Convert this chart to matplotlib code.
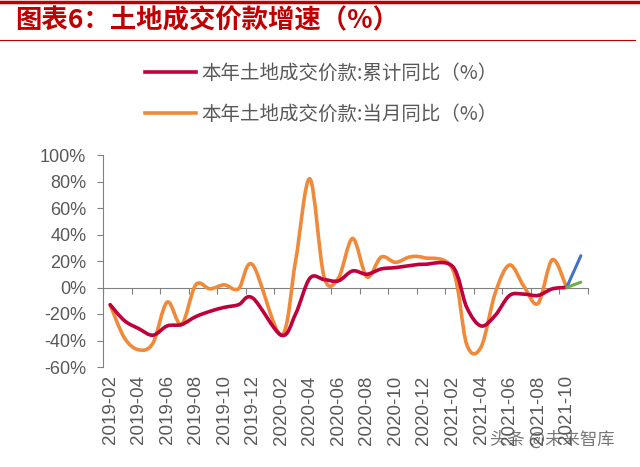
import matplotlib
matplotlib.use("Agg")
import matplotlib.pyplot as plt
import numpy as np
from matplotlib.path import Path
from matplotlib.patches import PathPatch
from matplotlib.lines import Line2D

plt.rcParams['font.family'] = ['Liberation Sans', 'Noto Sans CJK SC', 'DejaVu Sans']

# monthly data (January not published)
months = ['2019-02', '2019-03', '2019-04', '2019-05', '2019-06', '2019-07', '2019-08',
          '2019-09', '2019-10', '2019-11', '2019-12',
          '2020-02', '2020-03', '2020-04', '2020-05', '2020-06', '2020-07', '2020-08',
          '2020-09', '2020-10', '2020-11', '2020-12',
          '2021-02', '2021-03', '2021-04', '2021-05', '2021-06', '2021-07', '2021-08',
          '2021-09', '2021-10']
cum_yoy = [-13, -25, -31, -36, -29, -28, -22, -18, -15, -13, -8,
           -36, -20, 7, 6, 5, 12.5, 10, 14, 15, 16.5, 17.5,
           16, -15, -29, -21, -6, -5, -6, -1, 0]
month_yoy = [-13, -38, -47, -42, -11, -28, 2, -1, 2, -1, 17,
             -36, 20, 82, 8, 7, 37, 8, 23, 19, 23, 22.5,
             14, -43, -45, -4, 17, 1, -12, 21, 0]
# two stray series at the right end
tail_months = ['2021-10', '2021-11']
tail_blue = [0, 24]
tail_green = [0, 4]

label_months = ['2019-02', '2019-04', '2019-06', '2019-08', '2019-10', '2019-12',
                '2020-02', '2020-04', '2020-06', '2020-08', '2020-10', '2020-12',
                '2021-02', '2021-04', '2021-06', '2021-08', '2021-10']
n_cats = 34  # 2019-02 .. 2021-11


def month_index(m):
    y, mo = m.split('-')
    return (int(y) - 2019) * 12 + int(mo) - 2


def smooth_path(x, y):
    # excel-like smoothed line (bezier through the points)
    pts = np.column_stack([x, y]).astype(float)
    verts = [pts[0]]
    codes = [Path.MOVETO]
    n = len(pts)
    for i in range(n - 1):
        p0 = pts[max(i - 1, 0)]
        p1 = pts[i]
        p2 = pts[i + 1]
        p3 = pts[min(i + 2, n - 1)]
        verts += [p1 + (p2 - p0) / 6, p2 - (p3 - p1) / 6, p2]
        codes += [Path.CURVE4] * 3
    return Path(verts, codes)


red = '#C0003C'
orange = '#F08A3A'
gray = '#808080'

fig = plt.figure(figsize=(6.4, 4.67), dpi=100)
ax = fig.add_axes([103 / 640, 100 / 467, 485 / 640, 212 / 467])

x = [month_index(m) for m in months]
xt = [month_index(m) for m in tail_months]

for yy, col in [(month_yoy, orange), (cum_yoy, red)]:
    ax.add_patch(PathPatch(smooth_path(x, yy), fill=False, edgecolor=col, lw=2.6,
                           capstyle='round', joinstyle='round', zorder=3 if col == red else 2))
ax.plot(xt, tail_blue, color='#4472C4', lw=2.2, solid_capstyle='round', zorder=4)
ax.plot(xt, tail_green, color='#70AD47', lw=2.2, solid_capstyle='round', zorder=4)

ax.set_xlim(-0.5, n_cats - 0.5)
ax.set_ylim(-60, 100)

for s in ['top', 'right']:
    ax.spines[s].set_visible(False)
ax.spines['left'].set_color(gray)
ax.spines['bottom'].set_color(gray)
ax.spines['bottom'].set_position(('data', 0))
ax.spines['bottom'].set_zorder(1)

ax.set_yticks(np.arange(-60, 101, 20))
ax.set_yticklabels([f'{v}%' for v in range(-60, 101, 20)])
ax.tick_params(axis='y', direction='out', length=4, color=gray, labelsize=13,
               labelcolor='#595959', pad=8)
ax.set_xticks(np.arange(-0.5, n_cats, 2))
ax.set_xticklabels([])
ax.tick_params(axis='x', direction='out', length=4, color=gray)

sec = ax.secondary_xaxis('bottom')
sec.set_xticks([month_index(m) for m in label_months], labels=label_months)
sec.spines['bottom'].set_visible(False)
sec.tick_params(length=0, pad=6, labelsize=13.5, labelcolor='#595959', labelrotation=90)

handles = [Line2D([], [], color=red, lw=2.6), Line2D([], [], color=orange, lw=2.6)]
fig.legend(handles, ['本年土地成交价款:累计同比（%）', '本年土地成交价款:当月同比（%）'],
           loc='upper left', bbox_to_anchor=(145 / 640, 1 - 63 / 467),
           frameon=False, borderpad=0, borderaxespad=0, handlelength=2.6,
           handletextpad=0.3, labelspacing=1.0,
           prop={'family': ['Noto Sans CJK SC'], 'size': 14}, labelcolor='#595959')

fig.text(15 / 640, 1 - 21 / 467, '图表6：土地成交价款增速（%）', color='#C00000',
         fontsize=19, fontweight='bold', va='center', ha='left',
         family=['Noto Sans CJK SC', 'DejaVu Sans'])
fig.add_artist(Line2D([0, 1], [1 - 1.5 / 467, 1 - 1.5 / 467], color='#C00000', lw=2.5))
fig.add_artist(Line2D([0, 635 / 640], [1 - 40 / 467, 1 - 40 / 467], color='#C00000', lw=0.8))

fig.text(615 / 640, 1 - 440 / 467, '头条 @未来智库', color='#555555', fontsize=12.5,
         ha='right', va='center', family=['Noto Sans CJK SC', 'DejaVu Sans'], alpha=0.8)

fig.savefig('out.png', dpi=100)
